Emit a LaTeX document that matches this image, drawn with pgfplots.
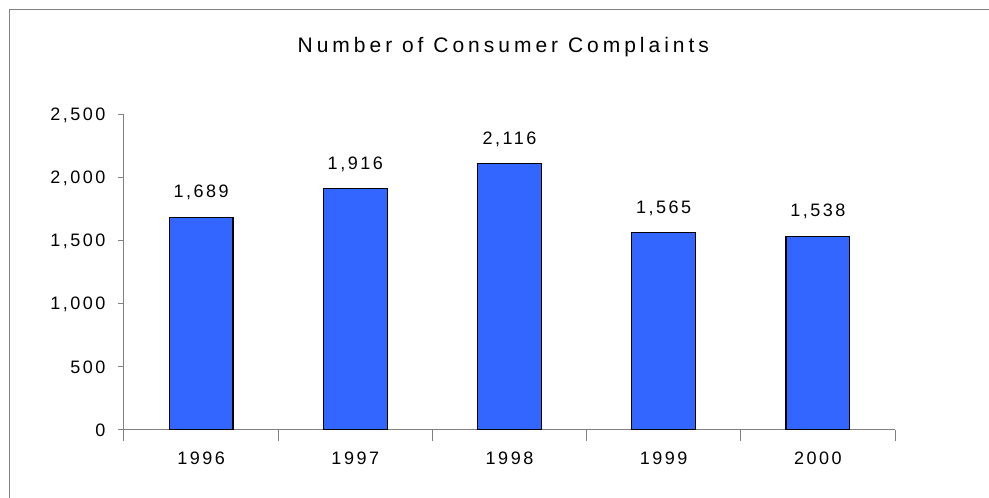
\documentclass[border=0pt]{standalone}
\usepackage{fontspec}
\setmainfont{Liberation Sans}[LetterSpace=14]
\usepackage{pgfplots}
\pgfplotsset{compat=1.18}
\definecolor{barblue}{HTML}{3366FF}
\definecolor{axgray}{HTML}{808080}
\begin{document}
\begin{tikzpicture}[x=1pt,y=1pt]
\path[use as bounding box] (0,0) rectangle (989,498);
\draw[axgray,line width=1pt] (9,-20) -- (9,488) -- (1010,488);
\begin{axis}[
  at={(124pt,68pt)}, anchor=south west,
  scale only axis, width=771pt, height=315pt,
  xmin=-0.5, xmax=4.5, ymin=0, ymax=2500,
  axis x line*=bottom, axis y line*=left,
  axis line style={axgray, line width=1pt, -},
  xtick={0,1,2,3,4},
  xticklabels={1996,1997,1998,1999,2000},
  major x tick style={draw=none},
  minor xtick={-0.5,0.5,1.5,2.5,3.5,4.5},
  minor x tick style={axgray, line width=1pt},
  minor tick length=11pt,
  ytick={0,500,1000,1500,2000,2500},
  y tick style={axgray, line width=1pt},
  tick align=outside,
  major tick length=6pt,
  yticklabel style={/pgf/number format/1000 sep={,}, xshift=-9pt},
  xticklabel style={yshift=-12pt},
  /pgf/number format/assume math mode=true,
  tick label style={font=\fontsize{18}{20}\selectfont},
  title={\addfontfeature{LetterSpace=19}Number of Consumer Complaints},
  title style={font=\fontsize{21}{24}\selectfont, at={(0.492,1)}, anchor=center, yshift=62pt},
  nodes near coords,
  nodes near coords style={font=\fontsize{18}{20}\selectfont, /pgf/number format/1000 sep={,}, /pgf/number format/assume math mode=true, yshift=13pt},
]
\addplot[ybar, bar width=0.415, fill=barblue, draw=black, line width=1.2pt] coordinates {(0,1689) (1,1916) (2,2116) (3,1565) (4,1538)};
\end{axis}
\end{tikzpicture}
\end{document}
